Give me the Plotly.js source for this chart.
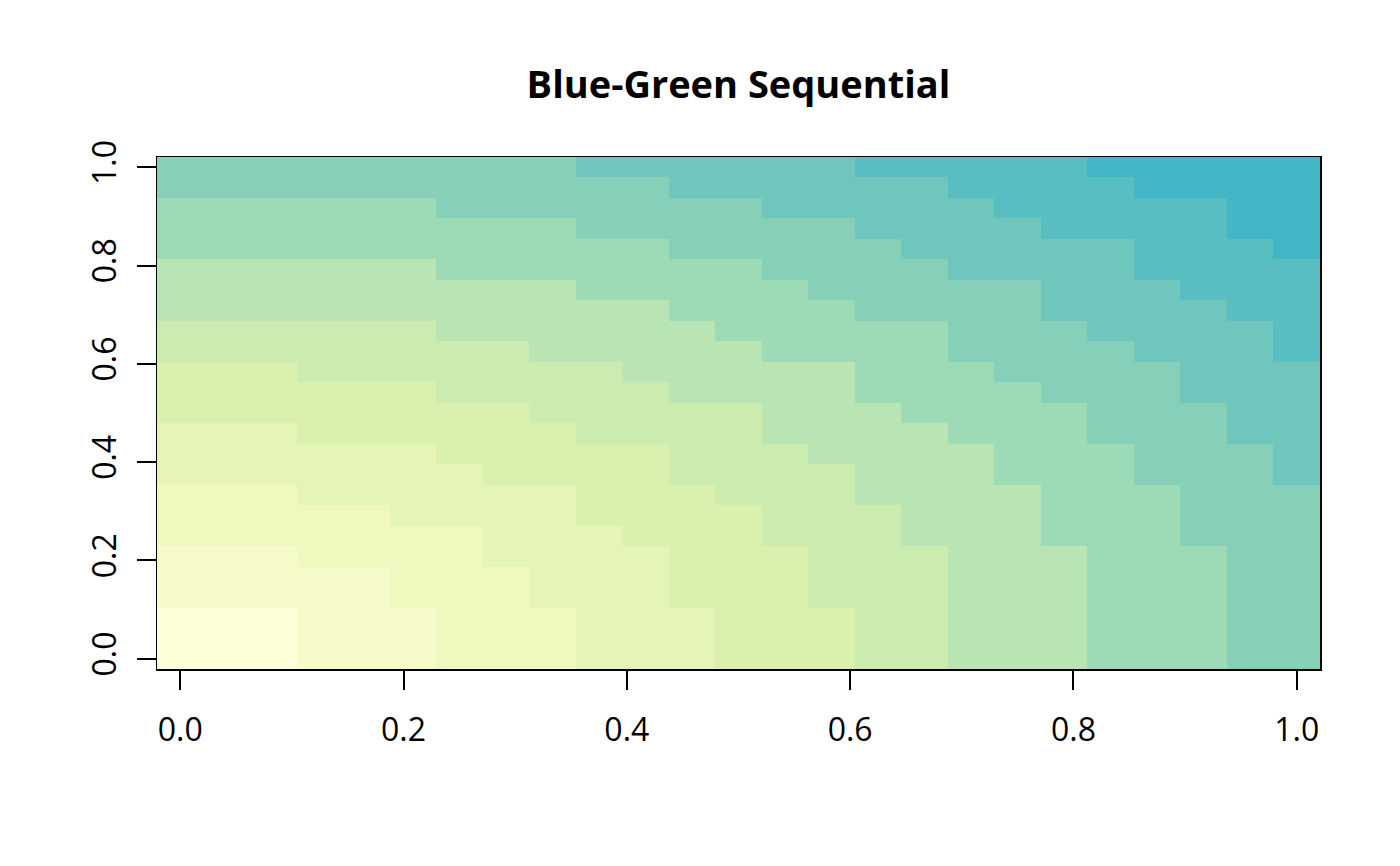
<!DOCTYPE html>
<html>
<head>
<meta charset="utf-8">
<script src="https://cdn.plot.ly/plotly-3.0.1.min.js"></script>
<style>html,body{margin:0;padding:0;background:#fff;}#chart{width:1400px;height:866px;}</style>
</head>
<body>
<div id="chart"></div>
<script>
// grid coordinates (25 x 25 cells)
const xVals = [0,0.041667,0.083333,0.125,0.166667,0.208333,0.25,0.291667,0.333333,0.375,0.416667,0.458333,0.5,0.541667,0.583333,0.625,0.666667,0.708333,0.75,0.791667,0.833333,0.875,0.916667,0.958333,1];
const yVals = [0,0.041667,0.083333,0.125,0.166667,0.208333,0.25,0.291667,0.333333,0.375,0.416667,0.458333,0.5,0.541667,0.583333,0.625,0.666667,0.708333,0.75,0.791667,0.833333,0.875,0.916667,0.958333,1];
// colour level of each cell (row = y index from bottom, column = x index)
const levels = [
[1,1,1,2,2,2,3,3,3,4,4,4,5,5,5,6,6,7,7,7,8,8,8,9,9],
[1,1,1,2,2,2,3,3,3,4,4,4,5,5,5,6,6,7,7,7,8,8,8,9,9],
[1,1,1,2,2,2,3,3,3,4,4,4,5,5,5,6,6,7,7,7,8,8,8,9,9],
[2,2,2,2,2,3,3,3,4,4,4,5,5,5,6,6,6,7,7,7,8,8,8,9,9],
[2,2,2,2,2,3,3,3,4,4,4,5,5,5,6,6,6,7,7,7,8,8,8,9,9],
[2,2,2,3,3,3,3,4,4,4,4,5,5,5,6,6,6,7,7,7,8,8,8,9,9],
[3,3,3,3,3,3,3,4,4,4,5,5,5,6,6,6,7,7,7,8,8,8,9,9,9],
[3,3,3,3,3,4,4,4,4,5,5,5,5,6,6,6,7,7,7,8,8,8,9,9,9],
[3,3,3,4,4,4,4,4,4,5,5,5,6,6,6,7,7,7,7,8,8,8,9,9,9],
[4,4,4,4,4,4,4,5,5,5,5,6,6,6,6,7,7,7,8,8,8,9,9,9,10],
[4,4,4,4,4,4,5,5,5,5,5,6,6,6,7,7,7,7,8,8,8,9,9,9,10],
[4,4,4,5,5,5,5,5,5,6,6,6,6,7,7,7,7,8,8,8,9,9,9,10,10],
[5,5,5,5,5,5,5,5,6,6,6,6,6,7,7,7,8,8,8,8,9,9,9,10,10],
[5,5,5,5,5,5,6,6,6,6,6,7,7,7,7,8,8,8,8,9,9,9,10,10,10],
[5,5,5,6,6,6,6,6,6,6,7,7,7,7,7,8,8,8,9,9,9,9,10,10,10],
[6,6,6,6,6,6,6,6,7,7,7,7,7,8,8,8,8,9,9,9,9,10,10,10,11],
[6,6,6,6,6,6,7,7,7,7,7,7,8,8,8,8,8,9,9,9,10,10,10,10,11],
[7,7,7,7,7,7,7,7,7,7,7,8,8,8,8,9,9,9,9,10,10,10,10,11,11],
[7,7,7,7,7,7,7,7,7,8,8,8,8,8,9,9,9,9,9,10,10,10,11,11,11],
[7,7,7,7,7,7,8,8,8,8,8,8,8,9,9,9,9,10,10,10,10,11,11,11,11],
[8,8,8,8,8,8,8,8,8,8,8,9,9,9,9,9,10,10,10,10,10,11,11,11,12],
[8,8,8,8,8,8,8,8,8,9,9,9,9,9,9,10,10,10,10,11,11,11,11,12,12],
[8,8,8,8,8,8,9,9,9,9,9,9,9,10,10,10,10,10,11,11,11,11,11,12,12],
[9,9,9,9,9,9,9,9,9,9,9,10,10,10,10,10,10,11,11,11,11,12,12,12,12],
[9,9,9,9,9,9,9,9,9,10,10,10,10,10,10,11,11,11,11,11,12,12,12,12,12]
];
const palette = ["#FEFED8","#F7FBCA","#EFF8BF","#E5F5B7","#D9F0AF","#CBEBAF","#B9E4B3","#9DDBB6","#86CFB9","#6EC6BC","#58BEC1","#41B6C5"];
const tickVals = [0,0.2,0.4,0.6,0.8,1];
const tickText = ["0.0","0.2","0.4","0.6","0.8","1.0"];

const n = palette.length;
const colorscale = [];
palette.forEach((c, k) => {
  colorscale.push([k / n, c]);
  colorscale.push([(k + 1) / n, c]);
});

const trace = {
  type: 'heatmap',
  x: xVals,
  y: yVals,
  z: levels,
  zmin: 0.5,
  zmax: n + 0.5,
  colorscale: colorscale,
  showscale: false,
  hoverinfo: 'x+y'
};

const half = (xVals[1] - xVals[0]) / 2;
const axisCommon = {
  showgrid: false,
  zeroline: false,
  showline: true,
  mirror: true,
  linecolor: '#000',
  linewidth: 1.5,
  ticks: 'outside',
  ticklen: 19,
  tickwidth: 2,
  tickcolor: '#000',
  tickmode: 'array',
  tickvals: tickVals,
  ticktext: tickText,
  tickfont: {family: 'Open Sans', size: 32, color: '#000'}
};

const layout = {
  width: 1400,
  height: 866,
  paper_bgcolor: '#fff',
  plot_bgcolor: '#fff',
  margin: {l: 157, r: 80, t: 157, b: 197},
  title: {
    text: 'Blue-Green Sequential',
    font: {family: 'Open Sans', size: 38, color: '#000', weight: 'bold'},
    x: 0.5, xref: 'paper', xanchor: 'center',
    y: 1 - 85 / 866, yref: 'container', yanchor: 'middle'
  },
  xaxis: Object.assign({}, axisCommon, {
    range: [xVals[0] - half, xVals[xVals.length - 1] + half],
    ticklabelstandoff: 13
  }),
  yaxis: Object.assign({}, axisCommon, {
    range: [yVals[0] - half, yVals[yVals.length - 1] + half],
    tickangle: -90,
    ticklabelstandoff: 8
  }),
  showlegend: false
};

Plotly.newPlot('chart', [trace], layout, {displayModeBar: false, staticPlot: true});
</script>
</body>
</html>
